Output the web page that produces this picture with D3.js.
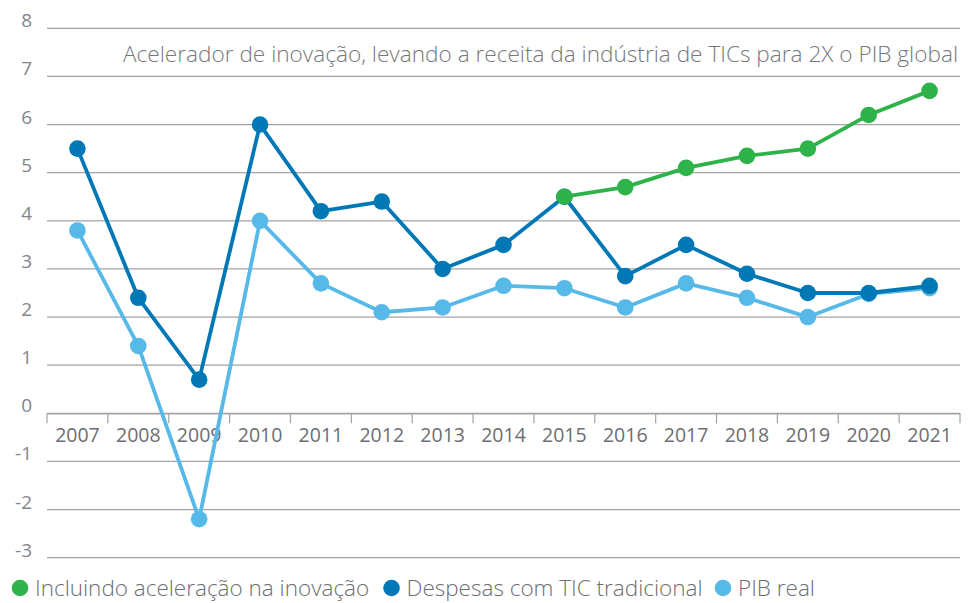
<!DOCTYPE html>
<html>
<head>
<meta charset="utf-8">
<script src="https://cdn.jsdelivr.net/npm/d3@7"></script>
<style>
  body { margin: 0; background: #fff; }
  svg { display: block; font-family: 'Open Sans', sans-serif; }
</style>
</head>
<body>
<div id="chart"></div>
<script>
// Data
const years = ['2007', '2008', '2009', '2010', '2011', '2012', '2013', '2014',
  '2015', '2016', '2017', '2018', '2019', '2020', '2021'];
const yTicks = [-3, -2, -1, 0, 1, 2, 3, 4, 5, 6, 7, 8];

const pibReal = [3.8, 1.4, -2.2, 4.0, 2.7, 2.1, 2.2, 2.65, 2.6, 2.2, 2.7, 2.4, 2.0, 2.48, 2.6];
const despesasTic = [5.5, 2.4, 0.7, 6.0, 4.2, 4.4, 3.0, 3.5, 4.5, 2.85, 3.5, 2.9, 2.5, 2.5, 2.65];
const aceleracao = [null, null, null, null, null, null, null, null, 4.5, 4.7, 5.1, 5.35, 5.5, 6.2, 6.7];

const seriesNames = ['Incluindo aceleração na inovação', 'Despesas com TIC tradicional', 'PIB real'];
const seriesColors = ['#2db34a', '#0078b5', '#56b9e8'];
const annotation = 'Acelerador de inovação, levando a receita da indústria de TICs para 2X o PIB global';

// Chart dimensions
const W = 976, H = 603;
const plotLeft = 47, plotRight = 960, plotTop = 28.3, plotBottom = 557.7;

const svg = d3.select('#chart')
  .append('svg')
  .attr('width', W)
  .attr('height', H);

// Scales
const x = d3.scaleBand()
  .domain(years)
  .range([plotLeft, plotRight])
  .padding(0);

const y = d3.scaleLinear()
  .domain([-3, 8])
  .range([plotBottom, plotTop]);

// Gridlines
svg.append('g')
  .selectAll('line')
  .data(yTicks)
  .enter()
  .append('line')
  .attr('x1', plotLeft)
  .attr('x2', plotRight)
  .attr('y1', d => y(d))
  .attr('y2', d => y(d))
  .attr('stroke', '#a3a3a6')
  .attr('stroke-width', 1.2);

// Y labels
svg.append('g')
  .selectAll('text')
  .data(yTicks)
  .enter()
  .append('text')
  .attr('x', 32)
  .attr('y', d => y(d) - 1)
  .attr('text-anchor', 'end')
  .attr('fill', '#848589')
  .style('font-size', '19px')
  .style('font-weight', 400)
  .text(d => d);

// X axis at zero
const xAxis = d3.axisBottom(x).tickSize(0).tickPadding(15);
const gx = svg.append('g')
  .attr('transform', 'translate(0,' + y(0) + ')')
  .call(xAxis);
gx.select('.domain').attr('stroke', '#a3a3a6').attr('stroke-width', 1.2);
gx.selectAll('text')
  .attr('fill', '#6d6e71')
  .style('font-size', '19.5px')
  .style('font-family', "'Open Sans', sans-serif")
  .style('font-weight', 400)
  .attr('dy', '0.71em');

// tick marks on band edges
gx.selectAll('.edge')
  .data(years.concat(['end']))
  .enter()
  .append('line')
  .attr('class', 'edge')
  .attr('x1', (d, i) => plotLeft + i * x.step())
  .attr('x2', (d, i) => plotLeft + i * x.step())
  .attr('y1', 0)
  .attr('y2', 10)
  .attr('stroke', '#a3a3a6')
  .attr('stroke-width', 1.2);

// Annotation
svg.append('text')
  .attr('x', 958)
  .attr('y', 62)
  .attr('text-anchor', 'end')
  .attr('fill', '#77787b')
  .style('font-size', '22.6px')
  .style('font-weight', 300)
  .text(annotation);

// Lines and markers
const cx = i => x(years[i]) + x.bandwidth() / 2;
const line = d3.line()
  .defined(d => d != null)
  .x((d, i) => cx(i))
  .y(d => y(d));

const drawOrder = [
  { values: pibReal, color: seriesColors[2] },
  { values: despesasTic, color: seriesColors[1] },
  { values: aceleracao, color: seriesColors[0] }
];

drawOrder.forEach(function (s) {
  const g = svg.append('g');
  g.append('path')
    .datum(s.values)
    .attr('d', line)
    .attr('fill', 'none')
    .attr('stroke', s.color)
    .attr('stroke-width', 3.8)
    .attr('stroke-linejoin', 'round');
  g.selectAll('circle')
    .data(s.values.map((v, i) => ({ v: v, i: i })).filter(d => d.v != null))
    .enter()
    .append('circle')
    .attr('cx', d => cx(d.i))
    .attr('cy', d => y(d.v))
    .attr('r', 8.3)
    .attr('fill', s.color);
});

// Legend
const legendX = [20, 391.5, 723];
const legend = svg.append('g');
seriesNames.forEach(function (name, i) {
  legend.append('circle')
    .attr('cx', legendX[i])
    .attr('cy', 588)
    .attr('r', 8.3)
    .attr('fill', seriesColors[i]);
  legend.append('text')
    .attr('x', legendX[i] + 15)
    .attr('y', 596)
    .attr('fill', '#6d6e71')
    .style('font-size', '22.5px')
    .style('font-weight', 300)
    .text(name);
});
</script>
</body>
</html>
